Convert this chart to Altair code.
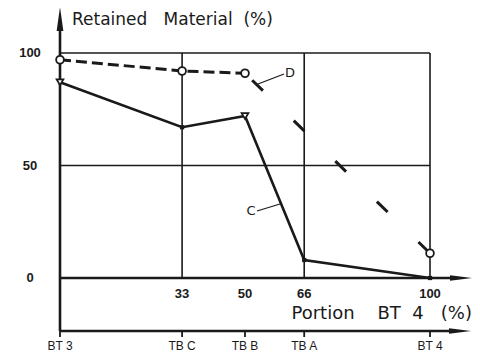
import altair as alt
import pandas as pd

# ---- data ----
portion = [0, 33, 50, 66, 100]                 # Portion BT 4 (%)
stage_labels = ["BT 3", "TB C", "TB B", "TB A", "BT 4"]
retained_C = [87, 67, 72, 8, 0]                # curve C (solid)
portion_D = [0, 33, 50]
retained_D = [97, 92, 91]                      # curve D (dashed, measured)
portion_D_ext = [50, 100]
retained_D_ext = [91, 11]                      # curve D (extrapolated)
y_ticks = [0, 50, 100]
x_ticks = [33, 50, 66, 100]
grid_x = [33, 66, 100]
grid_y = [50, 100]

# ---- pixel helpers (canvas layout only) ----
def X(px):
    return (px - 60) / 3.7

def Y(py):
    return (278 - py) / 2.25

XD = [X(8), X(472)]
YD = [Y(355), Y(8)]
xs = alt.Scale(domain=XD, nice=False, zero=False)
ys = alt.Scale(domain=YD, nice=False, zero=False)

def xe(f="x"):
    return alt.X(f"{f}:Q", scale=xs, axis=None)

def ye(f="y"):
    return alt.Y(f"{f}:Q", scale=ys, axis=None)

INK = "#1a1a1a"
y_bottom = Y(331)
NB = "\u00a0"

# grid lines
grid = pd.DataFrame(
    [{"x": gx, "x2": gx, "y": 0, "y2": 100} for gx in grid_x]
    + [{"x": 0, "x2": 100, "y": gy, "y2": gy} for gy in grid_y]
)
grid_layer = alt.Chart(grid).mark_rule(color=INK, strokeWidth=1.6).encode(
    x=xe(), x2="x2:Q", y=ye(), y2="y2:Q")

# main axes
axes = pd.DataFrame([
    {"x": 0, "x2": 0, "y": y_bottom, "y2": Y(24)},
    {"x": 0, "x2": X(455), "y": 0, "y2": 0},
    {"x": 0, "x2": X(455), "y": y_bottom, "y2": y_bottom},
])
axes_layer = alt.Chart(axes).mark_rule(color=INK, strokeWidth=2.6).encode(
    x=xe(), x2="x2:Q", y=ye(), y2="y2:Q")

arrow_up = alt.Chart(pd.DataFrame({"x": [0], "y": [Y(19)]})).mark_point(
    shape="M 0 -1 L 0.28 1 L -0.28 1 Z", size=576, filled=True, color=INK, opacity=1
).encode(x=xe(), y=ye())
arrow_right = alt.Chart(pd.DataFrame({"x": [X(461), X(460)], "y": [0, y_bottom]})).mark_point(
    shape="M 1 0 L -1 -0.25 L -1 0.25 Z", size=484, filled=True, color=INK, opacity=1
).encode(x=xe(), y=ye())

# bottom axis ticks and stage labels
stages = pd.DataFrame({"x": portion, "label": stage_labels})
stages["y"] = y_bottom
stages["y2"] = Y(337)
stages["ty"] = Y(346)
stage_ticks = alt.Chart(stages).mark_rule(color=INK, strokeWidth=1.8).encode(
    x=xe(), y=ye(), y2="y2:Q")
stage_text = alt.Chart(stages).mark_text(
    font="Liberation Sans", fontSize=12, color=INK, baseline="middle"
).encode(x=xe(), y=ye("ty"), text="label:N")

# numeric tick labels
ydf = pd.DataFrame({"y": y_ticks})
ydf["x"] = X(30)
ytl = alt.Chart(ydf).mark_text(
    font="Liberation Sans", fontWeight="bold", fontSize=13, color=INK, baseline="middle"
).encode(x=xe(), y=ye(), text="y:Q")
xdf = pd.DataFrame({"x": x_ticks})
xdf["y"] = Y(294)
xtl = alt.Chart(xdf).mark_text(
    font="Liberation Sans", fontWeight="bold", fontSize=13, color=INK, baseline="middle"
).encode(x=xe(), y=ye(), text="x:Q")

# titles
ytitle_text = "Retained" + NB * 3 + "Material" + NB * 2 + "(%)"
ytitle = alt.Chart(pd.DataFrame({"x": [X(72)], "y": [Y(20)], "t": [ytitle_text]})).mark_text(
    font="DejaVu Sans", fontSize=17, color=INK, align="left", baseline="middle"
).encode(x=xe(), y=ye(), text="t:N")
xtitle_text = "Portion" + NB * 4 + "BT" + NB * 2 + "4" + NB * 3 + "(%)"
xtitle = alt.Chart(pd.DataFrame({"x": [X(472)], "y": [Y(314)], "t": [xtitle_text]})).mark_text(
    font="DejaVu Sans", fontSize=18, color=INK, align="right", baseline="middle"
).encode(x=xe(), y=ye(), text="t:N")

# curve C
dfC = pd.DataFrame({"x": portion, "y": retained_C})
lineC = alt.Chart(dfC).mark_line(color=INK, strokeWidth=2.6).encode(x=xe(), y=ye())
triC = alt.Chart(dfC).transform_filter("datum.x == 0 || datum.x == 50").mark_point(
    shape="triangle-down", size=45, filled=True, fill="white", stroke=INK, strokeWidth=1.8, opacity=1
).encode(x=xe(), y=ye())
dotC = alt.Chart(dfC).transform_filter("datum.x != 0 && datum.x != 50").mark_point(
    shape="square", size=18, filled=True, color=INK, opacity=1
).encode(x=xe(), y=ye())

# curve D
dfD = pd.DataFrame({"x": portion_D, "y": retained_D})
lineD = alt.Chart(dfD).mark_line(color=INK, strokeWidth=3, strokeDash=[11, 5]).encode(x=xe(), y=ye())
dfDe = pd.DataFrame({"x": portion_D_ext, "y": retained_D_ext})
lineDe = alt.Chart(dfDe).mark_line(color=INK, strokeWidth=3, strokeDash=[15, 43],
                                   strokeDashOffset=48).encode(x=xe(), y=ye())
ptsD = alt.Chart(pd.DataFrame({"x": portion_D + [portion_D_ext[-1]],
                               "y": retained_D + [retained_D_ext[-1]]})).mark_point(
    shape="circle", size=60, filled=True, fill="white", stroke=INK, strokeWidth=1.8, opacity=1
).encode(x=xe(), y=ye())

# curve labels with leaders
leaders = pd.DataFrame([
    {"x": X(258), "y": Y(84), "x2": X(284), "y2": Y(74)},
    {"x": X(257), "y": Y(211), "x2": X(280), "y2": Y(204)},
])
leader_layer = alt.Chart(leaders).mark_rule(color=INK, strokeWidth=1.3).encode(
    x=xe(), x2="x2:Q", y=ye(), y2="y2:Q")
curve_lbl = alt.Chart(pd.DataFrame({"x": [X(290), X(251)], "y": [Y(73), Y(211)], "t": ["D", "C"]})).mark_text(
    font="DejaVu Sans", fontSize=13, color=INK, baseline="middle"
).encode(x=xe(), y=ye(), text="t:N")

chart = alt.layer(
    grid_layer, axes_layer, arrow_up, arrow_right, stage_ticks, stage_text,
    ytl, xtl, ytitle, xtitle, leader_layer, curve_lbl,
    lineC, lineD, lineDe, triC, dotC, ptsD
).properties(
    width=464, height=347, padding=0, autosize=alt.AutoSizeParams(type="none"),
    background="white"
).configure_view(stroke=None)

chart.save("out.html", embed_options={"renderer": "svg", "actions": False})
